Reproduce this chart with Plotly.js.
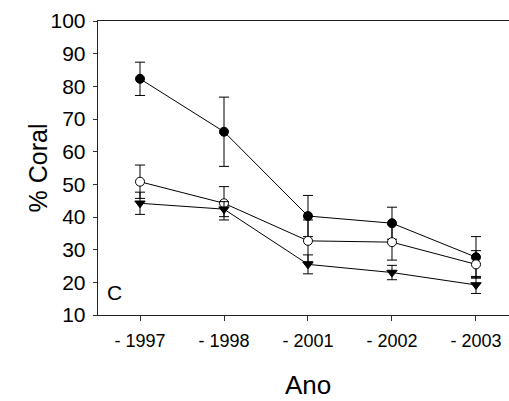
<!DOCTYPE html>
<html>
<head>
<meta charset="utf-8">
<script src="https://cdn.plot.ly/plotly-3.0.1.min.js"></script>
<style>html,body{margin:0;padding:0;background:#fff;}#chart{width:509px;height:401px;}</style>
</head>
<body>
<div id="chart"></div>
<script>
// Data
const years = ['1997', '1998', '2001', '2002', '2003'];
const tickLabels = ['- 1997', '- 1998', '- 2001', '- 2002', '- 2003'];

const filledMean = [82.3, 66.1, 40.3, 38.1, 27.7];
const filledErr  = [5.1, 10.6, 6.3, 4.9, 6.3];

const openMean = [50.8, 44.2, 32.7, 32.3, 25.5];
const openErr  = [5.1, 5.1, 6.4, 5.5, 4.2];

const triMean = [44.2, 42.4, 25.5, 23.0, 19.2];
const triErr  = [3.4, 2.3, 2.9, 2.2, 2.6];

function series(y, err, symbol, fill) {
  return {
    x: years, y: y, type: 'scatter', mode: 'lines+markers',
    line: {color: '#000', width: 1},
    marker: {symbol: symbol, size: 9, color: fill, line: {color: '#000', width: 1}},
    error_y: {type: 'data', array: err, visible: true, color: '#000', thickness: 1, width: 5},
    showlegend: false, cliponaxis: false
  };
}

const data = [
  series(filledMean, filledErr, 'circle', '#000'),
  series(openMean, openErr, 'circle', '#fff'),
  series(triMean, triErr, 'triangle-down', '#000')
];

const layout = {
  width: 509, height: 401,
  margin: {l: 98, r: 0, t: 21, b: 86},
  paper_bgcolor: '#fff', plot_bgcolor: '#fff',
  font: {family: 'Liberation Sans, Arial, sans-serif', color: '#000'},
  xaxis: {
    type: 'category', range: [-0.5, 4.393],
    tickvals: years, ticktext: tickLabels,
    ticks: 'outside', ticklen: 5, tickcolor: '#333', tickwidth: 1,
    ticklabelstandoff: 4,
    showline: true, linecolor: '#222', linewidth: 1.3, mirror: true,
    showgrid: false, zeroline: false,
    tickfont: {size: 18}
  },
  yaxis: {
    range: [10, 100], dtick: 10, tick0: 10,
    ticks: 'outside', ticklen: 4, tickcolor: '#333', tickwidth: 1,
    ticklabelstandoff: 3,
    showline: true, linecolor: '#222', linewidth: 1.3,
    showgrid: false, zeroline: false,
    tickfont: {size: 21}
  },
  annotations: [
    {
      text: 'C', xref: 'paper', yref: 'paper', x: 0.017, y: 0.0765,
      xanchor: 'left', yanchor: 'middle', showarrow: false, font: {size: 21}
    },
    {
      text: '% Coral', xref: 'paper', yref: 'paper', x: -0.145, y: 0.5,
      xanchor: 'center', yanchor: 'middle', textangle: -90, showarrow: false, font: {size: 25}
    },
    {
      text: 'Ano', xref: 'paper', yref: 'paper', x: 0.511, y: -0.238,
      xanchor: 'center', yanchor: 'middle', showarrow: false, font: {size: 26}
    }
  ]
};

Plotly.newPlot('chart', data, layout, {displayModeBar: false, staticPlot: true});
</script>
</body>
</html>
